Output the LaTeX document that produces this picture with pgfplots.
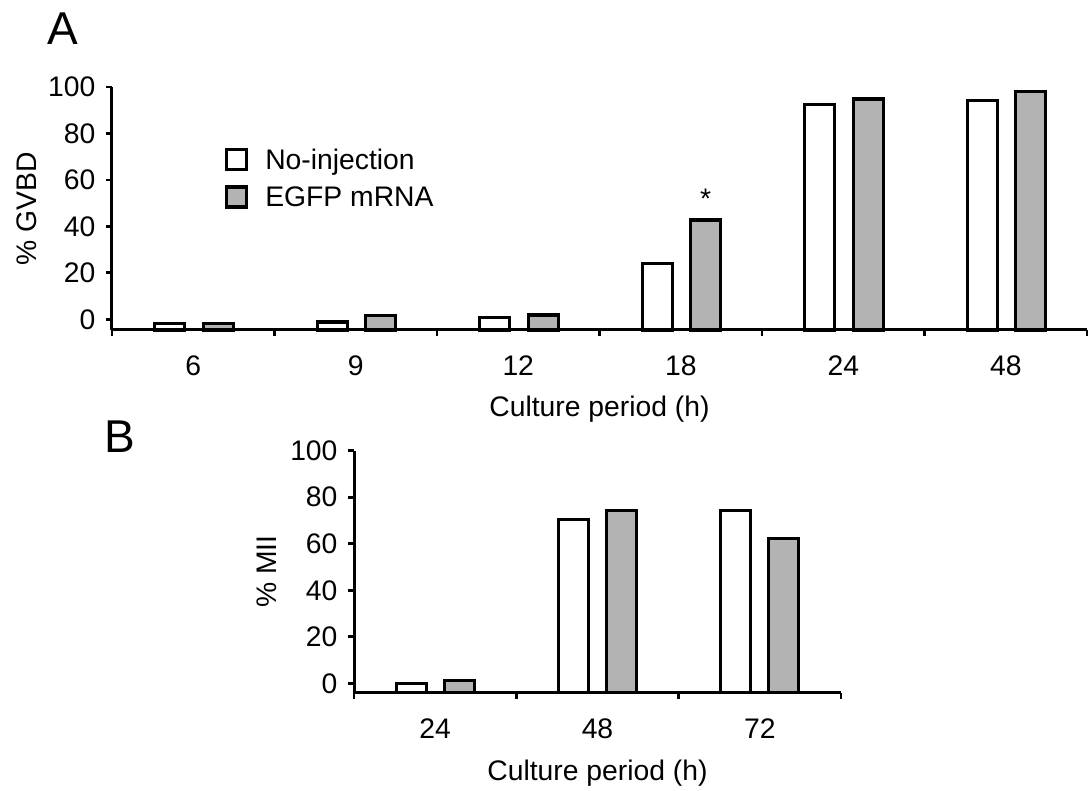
\documentclass[border=0pt]{standalone}
\usepackage{fontspec}
\setmainfont{Liberation Sans}
\usepackage{pgfplots}
\usepackage{pgfplotstable}
\pgfplotsset{compat=1.18}

\definecolor{barfill}{RGB}{179,179,179}

% panel A: GVBD (%) by culture period; values read against the 0..100 ticks
\pgfplotstableread{
x noinj egfp
0 -1.7 -1.7
1 -1.2 1.7
2 0.7 1.9
3 24.0 42.7
4 92.6 94.8
5 94.2 98.1
}\dataA

% panel B: MII (%)
\pgfplotstableread{
x noinj egfp
0 0.0 1.1
1 70.3 74.3
2 74.3 62.2
}\dataB

\pgfplotsset{
  panel/.style={
    scale only axis, axis lines*=left, clip=false,
    axis line style={line width=3pt},
    tick align=outside, major tick length=6pt, minor tick length=6pt,
    ytick style={line width=2.8pt, black},
    major x tick style={draw=none},
    minor x tick style={line width=2.8pt, black},
    ybar, bar width=30pt,
    ymin=0,
    xticklabel style={anchor=base, yshift=-40pt},
    yticklabel style={xshift=-7pt},
    yticklabels={0,20,40,60,80,100},
    xlabel={Culture period (h)},
  },
  noinj/.style={fill=white, draw=black, line width=3.3pt,
    legend image code/.code={\draw[##1] (0pt,0pt) rectangle (20pt,20pt);}},
  egfp/.style={fill=barfill, draw=black, line width=3.3pt,
    legend image code/.code={\draw[##1] (0pt,0pt) rectangle (20pt,20pt);}},
}

\begin{document}
\begin{tikzpicture}[font=\fontsize{28.3}{33}\selectfont]
\useasboundingbox (0,0) rectangle (1088pt,-791pt);

\node[anchor=base west, inner sep=0pt, font=\fontsize{46}{50}\selectfont] at (47pt,-45pt) {A};
\node[anchor=base west, inner sep=0pt, font=\fontsize{46}{50}\selectfont] at (104pt,-453pt) {B};

% axis line sits 4.6 units below the 0 tick
\begin{axis}[panel,
  at={(112pt,-330pt)}, anchor=south west,
  width=975pt, height=243pt,
  xmin=-0.5, xmax=5.5, ymax=104.6,
  xtick={0,...,5}, xticklabels={6,9,12,18,24,48},
  minor xtick={-0.5,0.5,...,5.5},
  ytick={4.6,24.6,44.6,64.6,84.6,104.6},
  ylabel={\% GVBD},
  ylabel style={at={(axis description cs:-0.0872,0.5)}, anchor=center},
  xlabel style={at={(axis description cs:0.5,-0.358)}, anchor=base},
  legend style={draw=none, fill=none, inner sep=0pt, outer sep=0pt,
    at={(axis description cs:0.1159,0.749)}, anchor=north west,
    row sep=14pt, column sep=17pt,
    nodes={inner sep=0pt, anchor=base west}},
  legend cell align=left,
]
\addplot[noinj, bar shift=-23.5pt] table[x=x, y expr=\thisrow{noinj}+4.6] {\dataA};
\addlegendentry{No-injection}
\addplot[egfp, bar shift=25pt] table[x=x, y expr=\thisrow{egfp}+4.6] {\dataA};
\addlegendentry{EGFP mRNA}
\node[anchor=base, xshift=25pt, yshift=12pt] at (axis cs:3,47.3) {*};
\end{axis}

% axis line sits 4.0 units below the 0 tick
\begin{axis}[panel,
  at={(354pt,-692.7pt)}, anchor=south west,
  width=487pt, height=242pt,
  xmin=-0.5, xmax=2.5, ymax=104.0,
  xtick={0,1,2}, xticklabels={24,48,72},
  minor xtick={-0.5,0.5,1.5,2.5},
  ytick={4.0,24.0,44.0,64.0,84.0,104.0},
  ylabel={\% MII},
  ylabel style={at={(axis description cs:-0.1786,0.5)}, anchor=center},
  xlabel style={at={(axis description cs:0.5,-0.361)}, anchor=base},
]
\addplot[noinj, bar shift=-24pt] table[x=x, y expr=\thisrow{noinj}+4.0] {\dataB};
\addplot[egfp, bar shift=24pt] table[x=x, y expr=\thisrow{egfp}+4.0] {\dataB};
\end{axis}
\end{tikzpicture}
\end{document}
